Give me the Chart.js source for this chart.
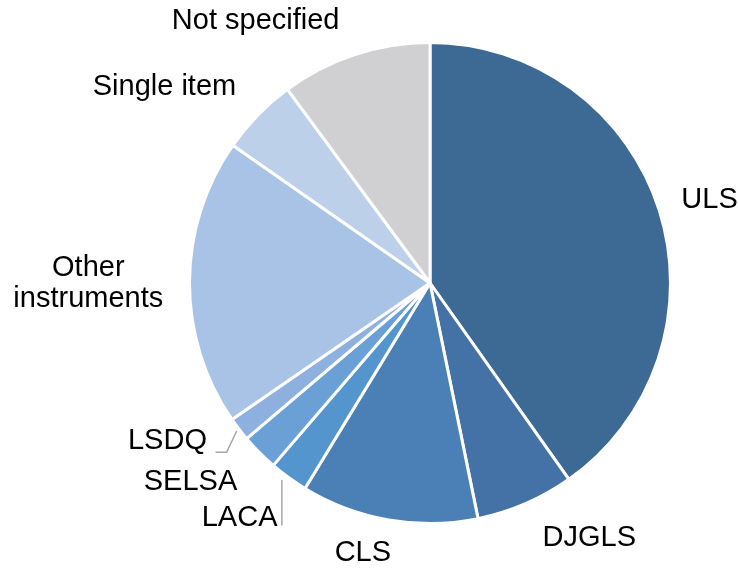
<!DOCTYPE html>
<html>
<head>
<meta charset="utf-8">
<script src="https://cdn.jsdelivr.net/npm/chart.js@4"></script>
<style>
  html, body { margin: 0; padding: 0; background: #fff; }
  #wrap { width: 738px; height: 568px; }
</style>
</head>
<body>
<div id="wrap"><canvas id="pie" width="738" height="568"></canvas></div>
<script>
const categories = ["ULS", "DJGLS", "CLS", "LACA", "SELSA", "LSDQ", "Other\ninstruments", "Single item", "Not specified"];
const shares = [40.2, 6.6, 11.9, 2.6, 2.5, 1.6, 19.3, 5.2, 10.1];
const sliceColors = ["#3d6a94", "#4472a6", "#4a80b5", "#5595cd", "#6ba0d7", "#8eb0de", "#a9c3e6", "#bcd0ea", "#d0d0d2"];

// label centres relative to pie centre, in pixels for a 240px radius
const labelOffsets = [
  [279, -83], [159, 254], [-67, 269], [-190, 235], [-239, 199],
  [-262, 158], [-341, 0], [-265, -196], [-174, -261],
];

const labelPlugin = {
  id: "sliceLabels",
  afterDatasetsDraw(chart) {
    const ctx = chart.ctx;
    const arcs = chart.getDatasetMeta(0).data;
    const cx = arcs[0].x, cy = arcs[0].y, r = arcs[0].outerRadius;
    const k = r / 240;
    ctx.save();
    ctx.font = "29px 'Liberation Sans', Arial, sans-serif";
    ctx.fillStyle = "#000";
    ctx.textAlign = "center";
    ctx.textBaseline = "middle";
    categories.forEach((name, i) => {
      const lines = name.split("\n");
      const x = cx + labelOffsets[i][0] * k;
      const y = cy + labelOffsets[i][1] * k;
      lines.forEach((line, j) => {
        ctx.fillText(line, x, y + (j - (lines.length - 1) / 2) * 31);
      });
    });

    // leader lines for the two smallest labels
    ctx.strokeStyle = "#a6a6a6";
    ctx.lineWidth = 1.5;
    const edge = (i) => {
      const a = (arcs[i].startAngle + arcs[i].endAngle) / 2;
      return [cx + Math.cos(a) * (r + 3), cy + Math.sin(a) * (r + 3)];
    };
    let [ex, ey] = edge(5);
    ctx.beginPath();
    ctx.moveTo(ex, ey);
    ctx.lineTo(ex - 10 * k, cy + 169 * k);
    ctx.lineTo(cx - 214 * k, cy + 169 * k);
    ctx.stroke();
    [ex, ey] = edge(3);
    ctx.beginPath();
    ctx.moveTo(ex - 5 * k, ey);
    ctx.lineTo(ex - 5 * k, cy + 242 * k);
    ctx.stroke();
    ctx.restore();
  },
};

new Chart(document.getElementById("pie"), {
  type: "pie",
  data: {
    labels: categories,
    datasets: [{
      data: shares,
      backgroundColor: sliceColors,
      borderColor: "#ffffff",
      borderWidth: 3,
    }],
  },
  options: {
    responsive: false,
    animation: false,
    layout: { padding: { left: 188, right: 66, top: 41, bottom: 43 } },
    plugins: { legend: { display: false }, tooltip: { enabled: false } },
  },
  plugins: [labelPlugin],
});
</script>
</body>
</html>
